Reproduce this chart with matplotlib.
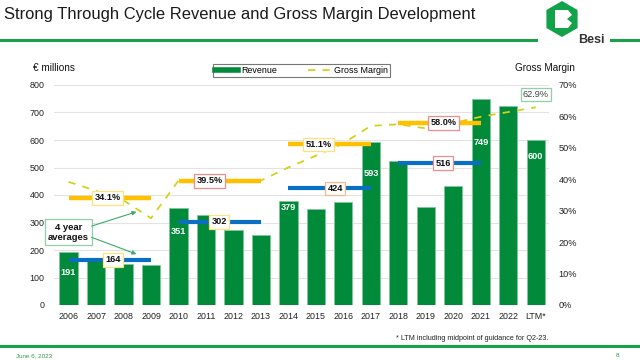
import matplotlib
matplotlib.use("Agg")
import matplotlib.pyplot as plt
from matplotlib.lines import Line2D
from matplotlib.patches import Polygon, Rectangle
import numpy as np

plt.rcParams['font.family'] = ['Liberation Sans', 'DejaVu Sans']

# ---------------- data ----------------
years = ['2006', '2007', '2008', '2009', '2010', '2011', '2012', '2013', '2014',
         '2015', '2016', '2017', '2018', '2019', '2020', '2021', '2022', 'LTM*']
revenue = [191, 168, 150, 147, 351, 326, 274, 256, 379, 348, 375, 593, 525, 356,
           434, 749, 722, 600]
gross_margin = [39.2, 36.3, 33.3, 27.6, 39.6, 39.4, 39.4, 39.6, 43.8, 47.5, 51.5,
                57.0, 57.5, 56.2, 57.9, 59.9, 61.4, 62.9]
period_start = [0, 4, 8, 12]
avg_revenue = [164, 302, 424, 516]
avg_margin = [34.1, 39.5, 51.1, 58.0]
shown_idx = [0, 4, 8, 11, 15, 17]
ltm_margin_label = '62.9%'

# ---------------- styling / positions ----------------
GREEN = '#008A3A'
GREEN_EDGE = '#7FC89A'
GOLD = '#FFC000'
BLUE = '#0A6FC2'
DASH = '#D2D21E'
value_label_y = [117, 267, 353, 479, 590, 539]
margin_label_x = [1.41, 5.13, 9.09, 13.64]
rev_label_x = [1.62, 5.49, 9.71, 13.62]
margin_edge = ['#FFE27A', '#F28C8C', '#FFE27A', '#F28C8C']
rev_edge = ['#FFE27A', '#FFE27A', '#F6B98C', '#F28C8C']

fig = plt.figure(figsize=(6.4, 3.6), dpi=100)
ax = fig.add_axes([54/640, 1-305/360, (549-54)/640, (305-85)/360])
x = np.arange(len(years))

ax.bar(x, revenue, width=0.66, color=GREEN, edgecolor=GREEN_EDGE, linewidth=0.6, zorder=2)
ax.set_xlim(-0.53, 17.48)
ax.set_ylim(0, 800)
ax.set_yticks(range(0, 801, 100))
ax.grid(axis='y', color='#E3E3E3', linewidth=0.8, zorder=0)
ax.set_axisbelow(True)
for s in ax.spines.values():
    s.set_visible(False)
ax.set_xticks(x)
ax.set_xticklabels(years)
ax.tick_params(axis='both', length=0, labelsize=6.4, colors='#222222')
ax.tick_params(axis='y', pad=7)
ax.tick_params(axis='x', pad=5)

scale = 800 / 70.0  # left units per margin %

# margin line
ax.plot(x, np.array(gross_margin) * scale, color=DASH, linestyle=(0, (4, 4)),
        linewidth=1.3, zorder=3)

# averages bars
for k, st in enumerate(period_start):
    ax.plot([st, st + 3], [avg_margin[k] * scale] * 2, color=GOLD, linewidth=3.2,
            solid_capstyle='butt', zorder=4)
    ax.plot([st, st + 3], [avg_revenue[k]] * 2, color=BLUE, linewidth=3.0,
            solid_capstyle='butt', zorder=4)
    ax.text(margin_label_x[k], avg_margin[k] * scale, f'{avg_margin[k]:.1f}%',
            ha='center', va='center', fontsize=6.6, fontweight='bold', color='#111111',
            bbox=dict(boxstyle='square,pad=0.25', fc='white', ec=margin_edge[k], lw=0.9),
            zorder=6)
    ax.text(rev_label_x[k], avg_revenue[k], f'{avg_revenue[k]}',
            ha='center', va='center', fontsize=6.6, fontweight='bold', color='#111111',
            bbox=dict(boxstyle='square,pad=0.25', fc='white', ec=rev_edge[k], lw=0.9),
            zorder=6)

# revenue values inside bars
for i, yy in zip(shown_idx, value_label_y):
    ax.text(i, yy, str(revenue[i]), ha='center', va='center', fontsize=6.6,
            fontweight='bold', color='white', zorder=5)

# LTM margin label
ax.text(17, 766, ltm_margin_label, ha='center', va='center', fontsize=6.6,
        color='#444444',
        bbox=dict(boxstyle='square,pad=0.25', fc='white', ec='#8FD0A8', lw=0.9), zorder=6)

# 4 year averages annotation
ax.text(0.0, 265, '4 year\naverages', ha='center', va='center', fontsize=6.8,
        fontweight='bold', color='#111111', linespacing=1.15,
        bbox=dict(boxstyle='square,pad=0.35', fc='white', ec='#8FD0A8', lw=0.9), zorder=6)
for (x0, y0, x1, y1) in [(0.84, 287, 2.47, 339), (0.84, 246, 2.47, 185)]:
    ax.annotate('', xy=(x1, y1), xytext=(x0, y0),
                arrowprops=dict(arrowstyle='-|>', color='#3DAA6B', lw=0.8,
                                mutation_scale=6, shrinkA=0, shrinkB=0), zorder=6)

# right axis
ax2 = ax.twinx()
ax2.set_ylim(0, 70)
ax2.set_yticks(range(0, 71, 10))
ax2.set_yticklabels([f'{v}%' for v in range(0, 71, 10)])
ax2.tick_params(axis='y', length=0, labelsize=6.6, colors='#222222', pad=7)
for s in ax2.spines.values():
    s.set_visible(False)

# axis titles
fig.text(33/640, 1-68/360, '€ millions', fontsize=7.2, color='#111111', va='center')
fig.text(515/640, 1-68/360, 'Gross Margin', fontsize=7.2, color='#111111', va='center')

# legend
handles = [Line2D([], [], color=GREEN, lw=4),
           Line2D([], [], color=DASH, lw=1.3, linestyle=(0, (4, 4)))]
leg = fig.legend(handles, ['Revenue', 'Gross Margin'], ncol=2, loc='center',
                 bbox_to_anchor=(301.5/640, 1-70.5/360), fontsize=6.4, frameon=True,
                 fancybox=False, edgecolor='#555555', handlelength=2.6,
                 columnspacing=3.5, handletextpad=0.3, borderpad=0.25)
leg.get_frame().set_linewidth(0.8)

# title & decorations
fig.text(4/640, 1-15/360, 'Strong Through Cycle Revenue and Gross Margin Development',
         fontsize=11.9, color='#1a1a1a', va='center')
fig.add_artist(Rectangle((0, 1-41.5/360), 538/640, 3/360, transform=fig.transFigure,
                         color='#17A24A', lw=0))
fig.add_artist(Rectangle((610/640, 1-41.5/360), 30/640, 3/360, transform=fig.transFigure,
                         color='#17A24A', lw=0))
fig.add_artist(Rectangle((0, 1-348/360), 1, 3/360, transform=fig.transFigure,
                         color='#17A24A', lw=0))

# logo
cx, cy, r = 562, 19, 18
hexpts = [((cx + r*np.cos(np.radians(a)))/640, 1-(cy + r*np.sin(np.radians(a)))/360)
          for a in [90, 150, 210, 270, 330, 30]]
fig.add_artist(Polygon(hexpts, closed=True, transform=fig.transFigure, color='#12A34A', lw=0))
inner = [(555, 10), (568, 10), (572, 15), (567, 19), (572, 23), (568, 28), (555, 28)]
fig.add_artist(Polygon([(px/640, 1-py/360) for px, py in inner], closed=True,
                       transform=fig.transFigure, color='white', lw=0))
fig.text(578/640, 1-40/360, 'Besi', fontsize=9, fontweight='bold', color='#333333',
         va='center')

# footer
fig.text(548/640, 1-338/360, '* LTM including midpoint of guidance for Q2-23.',
         fontsize=5.2, color='#222222', ha='right', va='center')
fig.text(16/640, 1-355.5/360, 'June 6, 2023', fontsize=4.5, color='#2E9A4A', va='center')
fig.text(616/640, 1-355.5/360, '8', fontsize=4.5, color='#2E9A4A', va='center')

fig.savefig('out.png', dpi=100)
